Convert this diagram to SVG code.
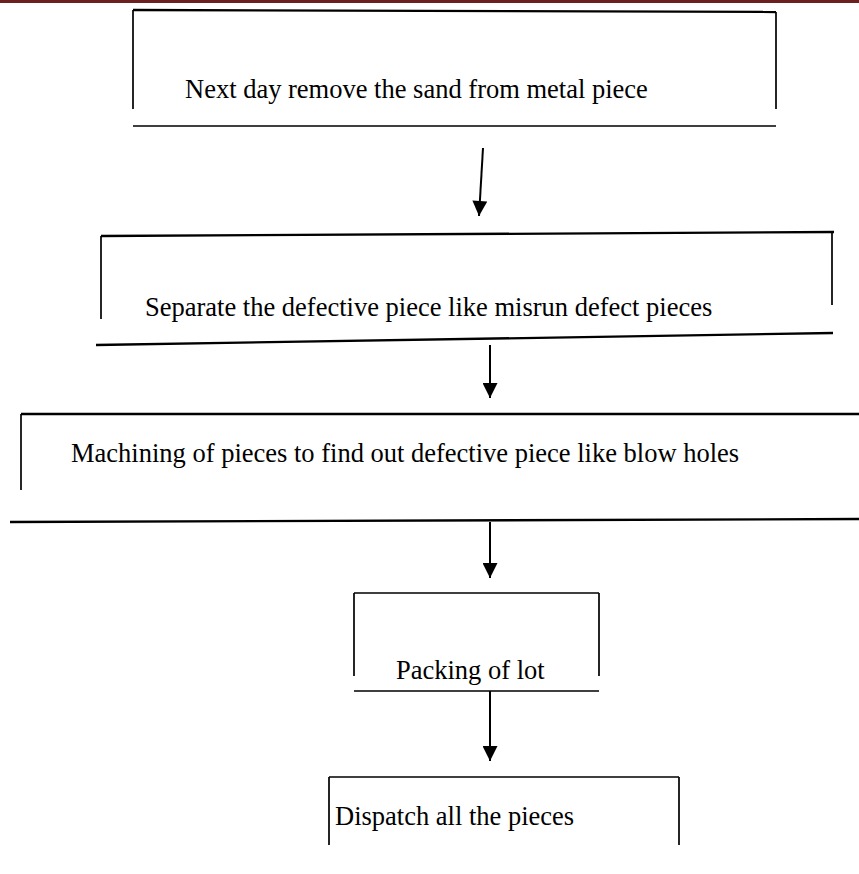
<svg xmlns="http://www.w3.org/2000/svg" width="859" height="874" viewBox="0 0 859 874">
  <style>
    .frame { fill: none; stroke: #000; stroke-width: 1.7; stroke-linecap: butt; }
    .top { stroke-width: 2.3; }
    .label { font-family: "Liberation Serif", "Times New Roman", serif; font-size: 26.5px; fill: #000; }
    .conn { stroke: #000; stroke-width: 2; fill: none; }
  </style>
  <defs>
    <marker id="arrow" viewBox="0 0 10 10" refX="10" refY="5" markerWidth="17" markerHeight="15" markerUnits="userSpaceOnUse" orient="auto">
      <path d="M0,0 L10,5 L0,10 Z" fill="#000"/>
    </marker>
  </defs>
  <rect x="0" y="0" width="859" height="3" fill="#6b1f1f"/>

  <g id="node-remove-sand">
    <path class="frame top" d="M133,10 L776,12"/>
    <path class="frame" d="M133,10 V109 M776,12 V109 M133,126 H776"/>
    <text class="label" x="185" y="98">Next day remove the sand from metal piece</text>
  </g>

  <g id="node-separate">
    <path class="frame top" d="M101,236 L834,232"/>
    <path class="frame" d="M101,236 V319 M832,232 V305"/>
    <path class="frame top" d="M96,345 L833,333"/>
    <text class="label" x="145" y="316">Separate the defective piece like misrun defect pieces</text>
  </g>

  <g id="node-machining">
    <path class="frame top" d="M21,414 H859"/>
    <path class="frame" d="M21,414 V490"/>
    <path class="frame top" d="M10,522 L859,519"/>
    <text class="label" x="71" y="462">Machining of pieces to find out defective piece like blow holes</text>
  </g>

  <g id="node-packing">
    <path class="frame" d="M354,593 H599 M354,593 V676 M599,593 V676 M354,691 H599"/>
    <text class="label" x="396" y="679">Packing of lot</text>
  </g>

  <g id="node-dispatch">
    <path class="frame" d="M329,777 H679 M329,777 V845 M679,777 V845"/>
    <text class="label" x="335" y="825">Dispatch all the pieces</text>
  </g>

  <g id="connectors">
    <line class="conn" x1="483" y1="148" x2="479" y2="216" marker-end="url(#arrow)"/>
    <line class="conn" x1="490" y1="345" x2="490" y2="398" marker-end="url(#arrow)"/>
    <line class="conn" x1="490" y1="522" x2="490" y2="578" marker-end="url(#arrow)"/>
    <line class="conn" x1="490" y1="691" x2="490" y2="761" marker-end="url(#arrow)"/>
  </g>
</svg>
